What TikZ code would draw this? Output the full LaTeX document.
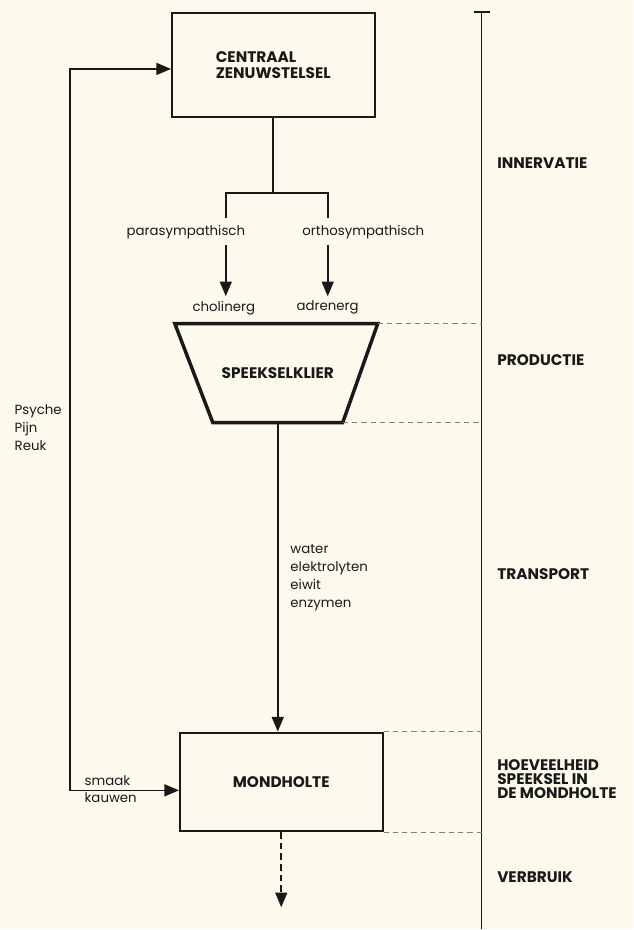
\documentclass[tikz,border=0pt]{standalone}
\usepackage{fontspec}
\setmainfont{Poppins}
\usepackage{tikz}
\usetikzlibrary{arrows.meta}
\definecolor{paper}{RGB}{252,250,237}
\definecolor{ink}{RGB}{25,25,25}

\begin{document}
\begin{tikzpicture}[x=0.75pt,y=-0.75pt,>={Triangle[width=9pt,length=11pt]},
  box/.style={draw=ink,line width=1.5pt,minimum width=152pt,minimum height=78pt},
  kop/.style={font=\bfseries\fontsize{11.5}{12.5}\selectfont,align=left,text=ink},
  klein/.style={font=\fontsize{10}{13.5}\selectfont,align=left,text=ink},
  lijn/.style={draw=ink,line width=1.2pt},
  streep/.style={draw=gray,line width=0.6pt,dash pattern=on 4pt off 3pt}]
\fill[paper] (0,0) rectangle (634,930);

\node [box,kop] (czs) at (273.5,65) {CENTRAAL\\ZENUWSTELSEL};
\node [box,kop,minimum height=74pt] (mond) at (281.5,782.5) {MONDHOLTE};

% zenuwen
\coordinate (splits) at (275,193);
\coordinate (para-eind) at (226,218);
\coordinate (ortho-eind) at (328,218);
\coordinate (para-start) at (226,245);
\coordinate (ortho-start) at (328,245);
\node [klein,anchor=east] (para) at (250,232) {parasympathisch};
\node [klein,anchor=west] (ortho) at (298,232) {orthosympathisch};
\node [klein] (chol) at (224,308) {cholinerg};
\node [klein] (adren) at (328,308) {adrenerg};
\draw [lijn] (czs.south) -- (czs.south |- splits);
\draw [lijn] (para-eind) -- (para-eind |- splits) -- (ortho-eind |- splits) -- (ortho-eind);
\draw [lijn,->] (para-start) -- (para-start |- chol.north);
\draw [lijn,->] (ortho-start) -- (ortho-start |- adren.north);

% speekselklier
\coordinate (klier-lb) at (175,324);
\coordinate (klier-rb) at (378,324);
\coordinate (klier-ro) at (343,423);
\coordinate (klier-lo) at (213,423);
\coordinate (klier-uit) at (278,423);
\draw [ink,line width=2.6pt,line join=miter] (klier-lb) -- (klier-rb) -- (klier-ro) -- (klier-lo) -- cycle;
\node [kop] (klier) at (278,373) {SPEEKSELKLIER};
\draw [lijn,->] (klier-uit) -- (mond.north -| klier-uit);
\node [klein,anchor=north west] (stoffen) at (286,540) {water\\elektrolyten\\eiwit\\enzymen};

% terugkoppeling
\coordinate (links-boven) at (70,69);
\coordinate (links-onder) at (70,791);
\node [klein,anchor=north west] (prikkels) at (10,400) {Psyche\\Pijn\\Reuk};
\node [klein,anchor=west,font=\fontsize{10}{13}\selectfont] (mondprikkels) at (80,790) {smaak\\kauwen};
\draw [lijn,<->] (czs.west |- links-boven) -- (links-boven) -- (links-onder) -- (mond.west |- links-onder);

\coordinate (weg) at (281.5,908);
\draw [lijn,dash pattern=on 5pt off 3pt,->] (mond.south) -- (weg);

% fasen
\coordinate (as-boven) at (482,12);
\coordinate (as-onder) at (482,930);
\draw [lijn] (as-boven) -- (as-onder);
\draw [lijn] ([xshift=-6pt]as-boven) -- ([xshift=6pt]as-boven);
\draw [streep] (klier-rb) -- (klier-rb -| as-boven);
\draw [streep] (klier-ro) -- (klier-ro -| as-boven);
\draw [streep] (mond.north east) -- (mond.north east -| as-boven);
\draw [streep] (mond.south east) -- (mond.south east -| as-boven);
\node [kop,anchor=west] (innervatie) at (493,163) {INNERVATIE};
\node [kop,anchor=west] (productie) at (493,360) {PRODUCTIE};
\node [kop,anchor=west] (transport) at (493,575) {TRANSPORT};
\node [kop,anchor=west,font=\bfseries\fontsize{11.5}{10.5}\selectfont] (hoeveelheid) at (493,780) {HOEVEELHEID\\SPEEKSEL IN\\DE MONDHOLTE};
\node [kop,anchor=west] (verbruik) at (493,878) {VERBRUIK};
\end{tikzpicture}
\end{document}
